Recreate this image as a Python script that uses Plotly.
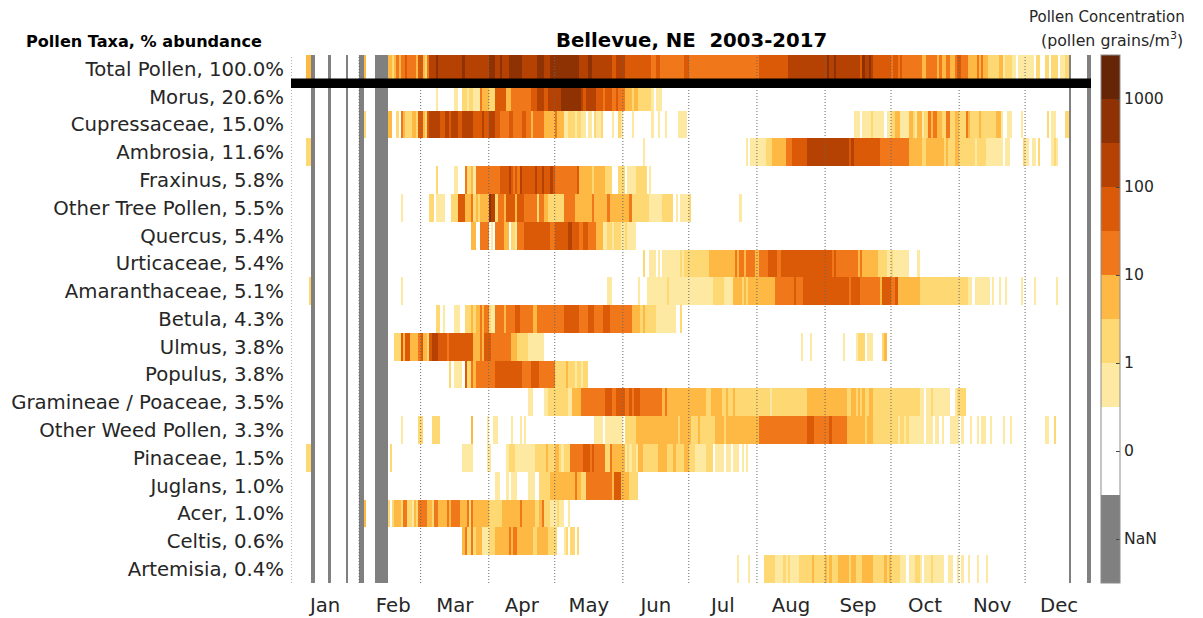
import plotly.graph_objects as go

N_DAYS = 364
taxa = ["Total Pollen, 100.0%", "Morus, 20.6%", "Cupressaceae, 15.0%", "Ambrosia, 11.6%", "Fraxinus, 5.8%",
        "Other Tree Pollen, 5.5%", "Quercus, 5.4%", "Urticaceae, 5.4%", "Amaranthaceae, 5.1%", "Betula, 4.3%",
        "Ulmus, 3.8%", "Populus, 3.8%", "Gramineae / Poaceae, 3.5%", "Other Weed Pollen, 3.3%", "Pinaceae, 1.5%",
        "Juglans, 1.0%", "Acer, 1.0%", "Celtis, 0.6%", "Artemisia, 0.4%"]
months = ["Jan", "Feb", "Mar", "Apr", "May", "Jun", "Jul", "Aug", "Sep", "Oct", "Nov", "Dec"]
month_starts = [0, 31, 59, 90, 120, 151, 181, 212, 243, 273, 304, 334]
month_label_days = [15.5, 46.5, 74.5, 105, 135.5, 166, 196.5, 227.5, 258, 288.5, 319, 349.5]
missing_days = [9, 10, 17, 25, 31, 32, 38, 39, 40, 41, 42, 43, 354, 362, 363]

# Each list holds (first day of a run, concentration class); a run lasts until the next entry.
# Classes: 0 none, 1 <1, 2 1-3, 3 3-10, 4 10-30, 5 30-100, 6 100-300, 7 300-1000, 8 >1000
total_pollen = [(7,3),(9,0),(33,3),(34,0),(44,3),(46,2),(47,3),(48,4),(49,3),(50,4),(52,5),(53,4),(57,3),(58,5),(60,3),(61,2),(62,4),(63,6),(66,7),(67,6),(78,7),(79,6),(90,7),(93,6),(95,7),(96,6),(99,7),(105,6),(112,7),(115,6),(118,7),(131,6),(135,7),(137,6),(146,5),(148,6),(152,5),(164,4),(166,5),(168,4),(179,5),(181,4),(213,5),(226,6),(244,7),(245,6),(247,7),(248,6),(259,5),(260,7),(261,6),(263,7),(264,6),(265,5),(273,4),(274,5),(276,4),(277,5),(278,4),(287,3),(289,4),(294,3),(295,4),(296,3),(298,4),(300,3),(302,4),(303,5),(305,4),(308,3),(312,4),(313,3),(314,4),(315,3),(317,2),(322,3),(324,1),(325,2),(328,1),(330,0),(331,1),(338,0),(339,2),(341,0),(343,2),(345,0),(346,2),(349,0),(350,1),(352,2),(354,0)]
morus = [(66,1),(67,0),(74,1),(76,0),(78,2),(80,1),(81,2),(83,1),(86,4),(87,3),(90,2),(93,5),(98,3),(100,4),(109,5),(112,6),(115,5),(117,6),(123,7),(132,6),(133,5),(134,6),(139,5),(142,4),(143,5),(146,4),(148,5),(149,4),(152,3),(155,2),(156,3),(158,2),(164,1),(165,0),(166,1),(169,0)]
cupressaceae = [(33,2),(34,0),(44,3),(46,0),(48,2),(49,0),(50,4),(51,3),(52,2),(55,3),(57,2),(58,5),(60,3),(61,2),(62,5),(63,6),(68,5),(70,6),(72,5),(73,6),(76,5),(78,6),(83,5),(87,6),(88,5),(90,6),(93,5),(95,4),(99,5),(101,4),(105,5),(107,4),(109,3),(110,4),(115,3),(120,4),(121,3),(124,1),(126,2),(129,1),(130,2),(132,1),(134,0),(135,1),(137,0),(138,2),(139,1),(141,2),(142,0),(146,1),(147,0),(149,2),(150,1),(151,0),(155,1),(156,0),(164,1),(165,0),(167,1),(168,0),(170,1),(171,0),(176,1),(180,0),(256,1),(259,0),(260,1),(264,2),(265,1),(270,0),(271,1),(273,2),(275,3),(277,1),(281,3),(283,2),(284,1),(285,3),(287,1),(288,2),(290,4),(291,3),(292,4),(294,3),(296,2),(298,4),(300,2),(302,3),(304,2),(307,4),(308,3),(309,2),(313,3),(314,2),(321,3),(323,1),(324,0),(326,1),(328,0),(332,1),(333,0),(344,2),(345,0),(346,1),(348,0),(352,2),(354,0)]
ambrosia = [(7,2),(9,0),(160,1),(161,0),(207,1),(208,0),(209,1),(216,2),(219,3),(225,4),(228,5),(235,6),(254,5),(255,6),(256,5),(268,4),(281,3),(287,2),(289,3),(297,2),(298,3),(299,2),(302,3),(304,2),(311,1),(312,2),(316,1),(324,0),(325,1),(327,0),(333,2),(334,1),(336,0),(337,1),(339,0),(340,2),(341,0),(346,1),(347,2),(348,1),(349,0)]
fraxinus = [(66,2),(67,0),(74,1),(76,0),(79,4),(80,2),(82,3),(83,1),(84,4),(95,5),(99,6),(100,5),(101,4),(102,5),(103,4),(104,6),(105,5),(111,6),(112,5),(114,6),(115,5),(118,6),(119,5),(120,4),(130,5),(131,3),(137,2),(138,3),(143,2),(146,0),(149,2),(152,0),(153,1),(157,2),(162,0),(163,1),(164,0)]
other_tree = [(50,1),(51,0),(63,2),(65,0),(66,1),(70,0),(73,2),(76,5),(79,3),(82,4),(83,2),(84,3),(85,2),(86,3),(90,7),(91,6),(93,2),(94,4),(97,3),(98,5),(102,3),(103,5),(106,4),(112,2),(113,4),(115,3),(117,2),(124,4),(129,3),(137,4),(138,3),(144,4),(145,3),(154,4),(155,2),(163,1),(169,2),(174,0),(175,1),(176,0),(177,1),(181,2),(182,0),(204,1),(205,0)]
quercus = [(82,3),(84,0),(86,4),(90,0),(91,1),(92,0),(93,4),(97,3),(99,0),(100,2),(102,1),(103,4),(106,5),(118,4),(120,5),(126,6),(128,5),(131,4),(133,5),(135,4),(139,3),(142,1),(144,2),(146,1),(147,2),(150,1),(152,2),(153,1),(157,0)]
urticaceae = [(160,2),(161,0),(163,1),(166,0),(167,1),(168,0),(169,1),(177,2),(178,1),(179,2),(190,3),(202,4),(203,3),(204,4),(206,3),(207,4),(211,3),(213,4),(217,5),(221,4),(223,5),(246,4),(247,5),(248,4),(258,3),(259,4),(260,3),(267,2),(271,1),(273,2),(274,1),(281,0),(285,1),(286,0)]
amaranthaceae = [(8,2),(9,0),(50,1),(51,0),(144,1),(146,0),(158,1),(159,0),(162,1),(171,2),(172,1),(192,2),(197,1),(201,3),(205,2),(206,3),(207,2),(208,3),(220,4),(229,5),(230,4),(233,5),(254,4),(255,5),(259,4),(268,3),(269,5),(273,4),(275,5),(276,3),(286,2),(308,1),(310,0),(311,1),(318,0),(319,1),(320,0),(322,1),(323,0),(325,1),(326,0),(332,1),(333,0),(338,1),(339,0),(348,1),(349,0)]
betula = [(66,2),(68,0),(69,1),(70,0),(74,1),(77,0),(79,2),(82,3),(83,2),(84,3),(86,4),(87,3),(88,4),(90,2),(91,1),(93,4),(97,3),(98,4),(102,5),(104,4),(110,3),(112,4),(124,5),(131,4),(135,5),(138,4),(142,5),(145,4),(155,3),(159,2),(160,3),(161,2),(166,1),(175,0),(177,2),(178,0)]
ulmus = [(47,2),(50,5),(51,3),(52,5),(54,3),(58,4),(59,5),(60,3),(62,2),(63,5),(64,6),(67,5),(71,4),(72,5),(83,3),(86,4),(87,3),(88,5),(91,4),(100,3),(103,2),(108,1),(115,0),(232,1),(233,0),(236,1),(237,0),(251,1),(252,0),(257,1),(258,2),(261,0),(262,1),(265,0),(269,2),(270,3),(271,0)]
populus = [(72,2),(73,0),(74,1),(78,0),(79,5),(80,2),(82,4),(83,3),(84,4),(93,5),(105,4),(109,5),(113,4),(120,2),(125,3),(126,2),(129,1),(130,2),(132,1),(133,2),(135,0)]
gramineae = [(108,1),(110,0),(115,1),(117,2),(126,1),(128,3),(132,4),(143,5),(146,4),(148,5),(152,4),(154,5),(155,4),(156,5),(159,4),(169,3),(170,4),(171,3),(189,2),(191,3),(196,2),(198,3),(199,2),(201,3),(202,2),(218,1),(219,2),(235,3),(253,2),(255,3),(257,2),(258,3),(259,2),(260,3),(261,2),(263,3),(265,2),(286,1),(288,0),(289,1),(291,2),(292,1),(300,0),(302,1),(303,2),(307,0)]
other_weed = [(50,1),(51,0),(58,2),(60,0),(64,2),(68,0),(82,3),(83,0),(89,1),(90,0),(92,1),(94,0),(100,1),(101,0),(104,1),(105,0),(106,1),(107,0),(138,1),(142,0),(143,1),(151,0),(152,2),(157,3),(176,2),(177,3),(182,2),(185,3),(186,2),(193,3),(197,2),(198,3),(213,4),(235,5),(238,4),(245,5),(246,4),(253,3),(261,2),(262,3),(265,2),(276,1),(277,2),(279,1),(280,2),(281,1),(288,0),(289,1),(292,0),(293,1),(295,0),(296,1),(297,0),(300,1),(304,0),(305,1),(306,0),(309,1),(310,0),(312,1),(313,0),(314,1),(316,0),(318,1),(319,0),(324,1),(325,0),(327,1),(328,0),(343,1),(345,0),(347,2),(348,0)]
pinaceae = [(7,2),(9,0),(45,2),(46,0),(78,1),(83,0),(89,1),(91,0),(98,1),(99,2),(102,1),(111,2),(116,3),(117,2),(120,3),(122,2),(123,1),(124,2),(127,4),(133,5),(136,4),(137,5),(138,4),(143,2),(145,4),(146,3),(152,1),(153,2),(154,1),(155,2),(157,1),(158,3),(160,2),(167,3),(171,2),(174,3),(175,2),(179,3),(181,2),(184,1),(189,2),(192,0),(193,1),(197,0),(198,1),(200,0),(201,1),(204,0),(205,1),(206,0),(207,1),(208,0)]
juglans = [(93,1),(95,0),(98,1),(99,0),(100,1),(103,0),(108,1),(111,0),(113,2),(118,3),(129,4),(130,3),(132,2),(134,4),(146,3),(147,5),(150,3),(154,2),(158,0)]
acer = [(33,3),(34,0),(44,2),(45,0),(46,2),(47,3),(50,2),(51,4),(53,2),(55,1),(56,3),(57,2),(58,4),(62,3),(64,2),(65,4),(67,3),(71,4),(72,3),(73,4),(77,3),(80,4),(81,2),(82,4),(83,3),(90,2),(96,3),(104,4),(105,3),(111,2),(113,3),(114,4),(115,2),(118,1),(121,2),(122,1),(124,0),(126,1),(127,0)]
celtis = [(78,3),(79,4),(80,2),(82,4),(83,2),(84,3),(87,1),(90,2),(93,3),(99,4),(100,3),(101,4),(103,3),(110,2),(112,3),(117,2),(121,0),(124,1),(125,2),(126,0),(127,2),(129,0),(130,2),(131,0)]
artemisia = [(203,1),(204,0),(208,1),(209,0),(215,2),(220,1),(224,2),(225,1),(226,2),(227,1),(231,2),(237,3),(238,2),(243,3),(244,2),(245,3),(246,2),(249,3),(254,2),(255,3),(257,2),(260,3),(265,2),(270,3),(271,2),(272,3),(273,2),(277,1),(280,0),(281,1),(284,2),(286,1),(287,0),(288,1),(291,2),(292,1),(297,0),(299,1),(301,0),(303,1),(304,0),(305,1),(306,0),(308,1),(309,0),(312,1),(313,0),(316,1),(317,0)]

taxa_runs = [total_pollen, morus, cupressaceae, ambrosia, fraxinus, other_tree, quercus, urticaceae, amaranthaceae,
             betula, ulmus, populus, gramineae, other_weed, pinaceae, juglans, acer, celtis, artemisia]

colorbar_colors = ["#808080", "#ffffff", "#fee9a2", "#fdd873", "#fdb944", "#f0781a", "#db5a07", "#b54102", "#8e3203", "#662506"]
colorbar_slots = [2, 2, 1, 1, 1, 1, 1, 1, 1, 1]
colorbar_tick_slots = [1, 3, 5, 7, 9, 11]
colorbar_tick_labels = ["NaN", "0", "1", "10", "100", "1000"]

def expand(runs):
    day_levels = [0] * N_DAYS
    for i, (start, level) in enumerate(runs):
        stop = runs[i + 1][0] if i + 1 < len(runs) else N_DAYS
        for d in range(start, stop):
            day_levels[d] = level
    return day_levels

def slot(level):
    return 3 if level == 0 else 3.5 + level

z = []
for runs in taxa_runs:
    row = [slot(v) for v in expand(runs)]
    for d in missing_days:
        row[d] = 1
    z.append(row)

total = sum(colorbar_slots)
scale, pos = [], 0
for c, n in zip(colorbar_colors, colorbar_slots):
    scale.append([pos / total, c])
    pos += n
    scale.append([pos / total, c])

TEXT = "#262626"
fig = go.Figure(go.Heatmap(
    z=z, x=[d + 0.5 for d in range(N_DAYS)], y=list(range(len(taxa))),
    zmin=0, zmax=total, colorscale=scale, hoverinfo="skip",
    colorbar=dict(
        thickness=19, thicknessmode="pixels", len=528, lenmode="pixels",
        x=1.0127, xanchor="left", xpad=0, y=1, yanchor="top", ypad=0,
        outlinecolor="#8c8c8c", outlinewidth=1,
        tickvals=colorbar_tick_slots, ticktext=colorbar_tick_labels,
        ticks="inside", ticklen=4, tickwidth=1, tickcolor="#444444",
        tickprefix="\u00a0\u00a0\u00a0", tickfont=dict(family="DejaVu Sans", size=15.6, color=TEXT),
    ),
))

shapes = [dict(type="line", xref="x", yref="paper", x0=m, x1=m, y0=0, y1=1,
               line=dict(color="#666666", width=1, dash="1px,2px"), layer="above") for m in month_starts]
shapes.append(dict(type="line", xref="paper", yref="y", x0=0, x1=1, y0=0.52, y1=0.52,
                   line=dict(color="#000000", width=9.5), layer="above"))

annotations = [
    dict(text="<b>Bellevue, NE\u00a0\u00a02003-2017</b>", xref="x", yref="paper", x=182, y=1, yshift=1, yanchor="bottom",
         showarrow=False, font=dict(family="DejaVu Sans", size=19.7, color="#000000")),
    dict(text="<b>Pollen Taxa, % abundance</b>", xref="paper", yref="paper", x=0, xanchor="right", xshift=-27, y=1, yshift=2,
         yanchor="bottom", showarrow=False, font=dict(family="DejaVu Sans", size=16.1, color="#000000")),
    dict(text="Pollen Concentration", xref="paper", yref="paper", x=1.1195, y=1, yshift=38,
         yanchor="middle", showarrow=False, font=dict(family="DejaVu Sans", size=15, color=TEXT)),
    dict(text="(pollen grains/m<sup>3</sup>)", xref="paper", yref="paper", x=1.1175, y=1, yshift=16,
         yanchor="middle", showarrow=False, font=dict(family="DejaVu Sans", size=15.8, color=TEXT)),
]

fig.update_layout(
    width=1203, height=618, autosize=False,
    margin=dict(l=291, r=112, t=55, b=35, pad=0),
    paper_bgcolor="white", plot_bgcolor="white",
    shapes=shapes, annotations=annotations,
    xaxis=dict(range=[0, N_DAYS], tickvals=month_label_days, ticktext=months, showgrid=False, zeroline=False,
               automargin=False, ticks="outside", ticklen=4, tickcolor="rgba(0,0,0,0)", showline=False,
               tickfont=dict(family="DejaVu Sans", size=19.7, color=TEXT)),
    yaxis=dict(range=[len(taxa) - 0.5, -0.5], tickvals=list(range(len(taxa))), ticktext=taxa, showgrid=False,
               automargin=False, zeroline=False, ticks="outside", ticklen=2, tickcolor="rgba(0,0,0,0)", showline=False,
               tickfont=dict(family="DejaVu Sans", size=19.7, color=TEXT)),
)

fig.write_html("out.html", config={"displayModeBar": False},
               post_script="document.body.style.margin='0';document.body.style.overflow='hidden';")
